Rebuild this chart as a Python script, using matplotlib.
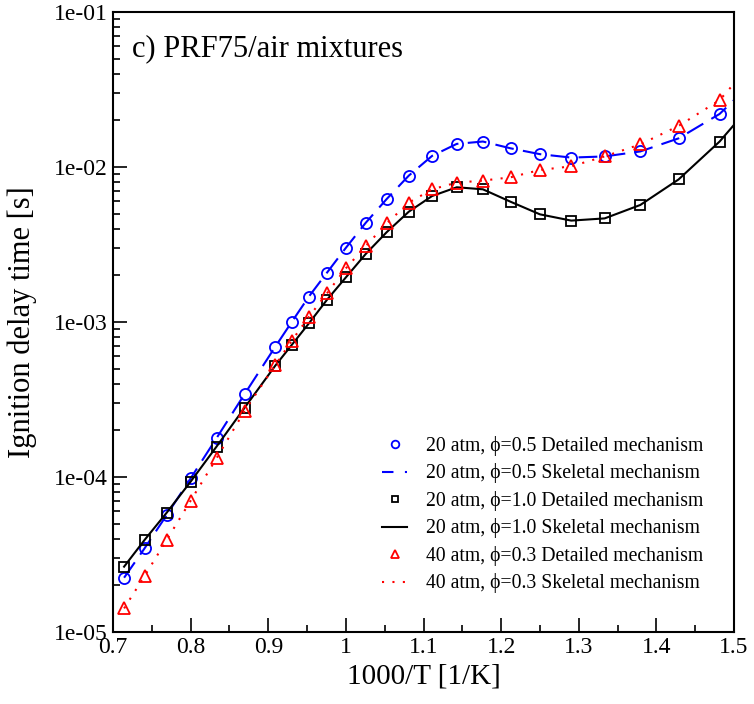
import numpy as np
import matplotlib.pyplot as plt
from matplotlib.lines import Line2D
from matplotlib.ticker import LogLocator, MultipleLocator, FuncFormatter

plt.rcParams['font.family'] = ['Liberation Serif', 'DejaVu Serif']

#temperatures of the detailed mechanism points [K]
T = np.array([1400, 1350, 1300, 1250, 1200, 1150, 1100, 1075, 1050, 1025, 1000,
              975, 950, 925, 900, 875, 850, 825, 800, 775, 750, 725, 700, 675])
x_det = 1000.0 / T

#detailed mechanism ignition delay times [s]
tau_05 = np.array([2.24e-5, 3.47e-5, 5.69e-5, 9.8e-5, 1.78e-4, 3.43e-4, 6.93e-4, 1.0e-3,
                   1.46e-3, 2.08e-3, 3.01e-3, 4.37e-3, 6.22e-3, 8.8e-3, 1.18e-2, 1.41e-2,
                   1.46e-2, 1.32e-2, 1.21e-2, 1.15e-2, 1.17e-2, 1.26e-2, 1.53e-2, 2.20e-2])
tau_10 = np.array([2.64e-5, 3.93e-5, 5.89e-5, 9.33e-5, 1.57e-4, 2.80e-4, 5.23e-4, 7.11e-4,
                   9.8e-4, 1.39e-3, 1.94e-3, 2.75e-3, 3.80e-3, 5.15e-3, 6.5e-3, 7.40e-3,
                   7.18e-3, 5.97e-3, 4.95e-3, 4.51e-3, 4.66e-3, 5.69e-3, 8.31e-3, 1.46e-2])
tau_03 = np.array([1.42e-5, 2.30e-5, 3.93e-5, 7.03e-5, 1.32e-4, 2.67e-4, 5.28e-4, 7.57e-4,
                   1.08e-3, 1.53e-3, 2.22e-3, 3.09e-3, 4.33e-3, 5.89e-3, 7.18e-3, 7.93e-3,
                   8.17e-3, 8.58e-3, 9.57e-3, 1.01e-2, 1.17e-2, 1.40e-2, 1.84e-2, 2.70e-2])

#skeletal mechanism curves (same temperatures plus the right edge 1000/T = 1.5)
x_skel = np.append(x_det, 1.5)
skel_05 = np.append(tau_05, 2.70e-2)
skel_10 = np.append(tau_10, 1.87e-2)
skel_03 = np.append(tau_03, 3.45e-2)

labels = ['20 atm, \u03d5=0.5 Detailed mechanism', '20 atm, \u03d5=0.5 Skeletal mechanism',
          '20 atm, \u03d5=1.0 Detailed mechanism', '20 atm, \u03d5=1.0 Skeletal mechanism',
          '40 atm, \u03d5=0.3 Detailed mechanism', '40 atm, \u03d5=0.3 Skeletal mechanism']

fig = plt.figure(figsize=(7.54, 7.04), dpi=100)
ax = fig.add_axes([113/754, 1 - 632/704, 621/754, 620/704])

#detailed = open markers, skeletal = lines
ax.plot(x_det, tau_05, 'o', mfc='none', mec='blue', ms=8, mew=1.3)
ax.plot(x_skel, skel_05, '-', color='blue', lw=1.5, dashes=(9, 4.5))
ax.plot(x_det, tau_10, 's', mfc='none', mec='black', ms=7, mew=1.3)
ax.plot(x_skel, skel_10, '-', color='black', lw=1.5)
ax.plot(x_det, tau_03, '^', mfc='none', mec='red', ms=8, mew=1.3)
ax.plot(x_skel, skel_03, '-', color='red', lw=1.5, dashes=(1, 4))

ax.set_yscale('log')
ax.set_xlim(0.7, 1.5)
ax.set_ylim(1e-5, 1e-1)

#ticks: inward, only bottom and left
ax.xaxis.set_major_locator(MultipleLocator(0.1))
ax.xaxis.set_minor_locator(MultipleLocator(0.05))
ax.xaxis.set_major_formatter(FuncFormatter(lambda v, p: ('%g' % round(v, 2))))
ax.yaxis.set_major_locator(LogLocator(base=10, numticks=10))
ax.yaxis.set_minor_locator(LogLocator(base=10, subs=np.arange(2, 10), numticks=20))
ax.yaxis.set_major_formatter(FuncFormatter(lambda v, p: '1e-%02d' % round(-np.log10(v))))
ax.yaxis.set_minor_formatter(FuncFormatter(lambda v, p: ''))
ax.tick_params(which='both', direction='in', top=False, right=False, labelsize=17, width=1.2)
ax.tick_params(which='major', length=10)
ax.tick_params(which='minor', length=5)
for s in ax.spines.values():
    s.set_linewidth(1.5)

ax.set_xlabel('1000/T [1/K]', fontsize=21)
ax.set_ylabel('Ignition delay time [s]', fontsize=22)
ax.yaxis.set_label_coords(-(113 - 37) / 621, 0.5)
ax.text(0.03, 0.94, 'c) PRF75/air mixtures', transform=ax.transAxes, fontsize=22, va='center')

#legend handles: small markers and short dashes like the original
handles = [Line2D([], [], ls='none', marker='o', mfc='none', mec='blue', ms=5.5, mew=1.3),
           Line2D([], [], color='blue', lw=1.5, dashes=(5.5, 5.5)),
           Line2D([], [], ls='none', marker='s', mfc='none', mec='black', ms=5, mew=1.3),
           Line2D([], [], color='black', lw=1.5),
           Line2D([], [], ls='none', marker='^', mfc='none', mec='red', ms=5.5, mew=1.3),
           Line2D([], [], color='red', lw=1.5, dashes=(1, 4))]
ax.legend(handles, labels, loc='upper left',
          bbox_to_anchor=((382 - 113) / 621, (632 - 436) / 620),
          frameon=False, fontsize=14.2, handlelength=1.27,
          handletextpad=0.95, labelspacing=0.38, borderpad=0, borderaxespad=0)

plt.savefig('out.png', dpi=100)
